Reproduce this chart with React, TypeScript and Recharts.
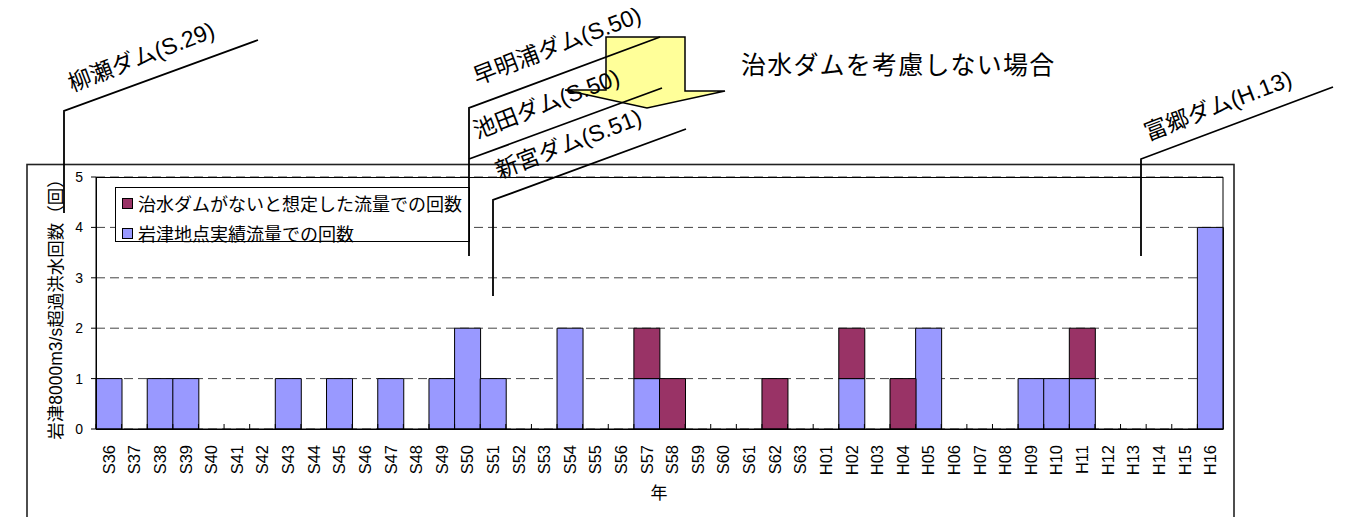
import React from "react";
import { BarChart, Bar, XAxis, YAxis, CartesianGrid, Legend } from "recharts";

// 年 (昭和S36〜平成H16)
const years = [
  "S36", "S37", "S38", "S39", "S40", "S41", "S42", "S43", "S44", "S45",
  "S46", "S47", "S48", "S49", "S50", "S51", "S52", "S53", "S54", "S55",
  "S56", "S57", "S58", "S59", "S60", "S61", "S62", "S63", "H01", "H02",
  "H03", "H04", "H05", "H06", "H07", "H08", "H09", "H10", "H11", "H12",
  "H13", "H14", "H15", "H16",
];

// 岩津地点実績流量での回数
const observed = [
  1, 0, 1, 1, 0, 0, 0, 1, 0, 1,
  0, 1, 0, 1, 2, 1, 0, 0, 2, 0,
  0, 1, 0, 0, 0, 0, 0, 0, 0, 1,
  0, 0, 2, 0, 0, 0, 1, 1, 1, 0,
  0, 0, 0, 4,
];

// 治水ダムがないと想定した流量での回数 (実績への上積み分)
const withoutDams = [
  0, 0, 0, 0, 0, 0, 0, 0, 0, 0,
  0, 0, 0, 0, 0, 0, 0, 0, 0, 0,
  0, 1, 1, 0, 0, 0, 1, 0, 0, 1,
  0, 1, 0, 0, 0, 0, 0, 0, 1, 0,
  0, 0, 0, 0,
];

const countTicks = [0, 1, 2, 3, 4, 5];

const data = years.map((year, i) => ({
  year,
  observed: observed[i],
  withoutDams: withoutDams[i],
}));

const W = 1351;
const H = 517;
const PLOT = { left: 96, right: 1223, top: 177, bottom: 429 };
const BAND = (PLOT.right - PLOT.left) / years.length;

const JP = "'Liberation Sans', 'Noto Sans CJK JP', sans-serif";
const BLUE = "#9999FF";
const PLUM = "#993366";

function YearTick(props: any) {
  const { x, y, payload } = props;
  const left = x - BAND / 2;
  return (
    <g>
      <line x1={left} x2={left} y1={y - 5} y2={y} stroke="#000" strokeWidth={1} />
      <text
        transform={`translate(${x},${y + 16}) rotate(-90)`}
        textAnchor="end"
        dy="0.36em"
        fontFamily={JP}
        fontSize={16.5}
        fill="#000"
      >
        {payload.value}
      </text>
    </g>
  );
}

function LegendBox(props: any) {
  const items = (props.payload || []).slice().reverse();
  return (
    <div
      style={{
        boxSizing: "border-box",
        width: 355,
        height: 55,
        border: "1px solid #000",
        background: "#fff",
        fontFamily: JP,
        fontSize: 18,
        color: "#000",
        position: "relative",
      }}
    >
      {items.map((it: any, i: number) => (
        <div
          key={it.value}
          style={{
            position: "absolute",
            left: 6,
            top: 3 + i * 30,
            height: 24,
            display: "flex",
            alignItems: "center",
            whiteSpace: "nowrap",
          }}
        >
          <span
            style={{
              display: "inline-block",
              boxSizing: "border-box",
              width: 11,
              height: 11,
              background: it.color,
              border: "1px solid #000",
              marginRight: 5,
            }}
          />
          <span>{it.value}</span>
        </div>
      ))}
    </div>
  );
}

// 各ダム完成年の引出し線と注記
const damNotes = [
  { text: "柳瀬ダム(S.29)", path: "M64,213 L64,111 L258,40", tx: 72, ty: 92 },
  { text: "早明浦ダム(S.50)", path: "M469,256 L469,108 L660,37", tx: 477, ty: 85 },
  { text: "池田ダム(S.50)", path: "M469,159 L662,88", tx: 477, ty: 139 },
  { text: "新宮ダム(S.51)", path: "M493,296 L493,200 L686,129", tx: 499, ty: 179 },
  { text: "富郷ダム(H.13)", path: "M1141,256 L1141,159 L1333,87", tx: 1148, ty: 141 },
];

function Annotations() {
  return (
    <svg
      width={W}
      height={H}
      style={{ position: "absolute", left: 0, top: 0, pointerEvents: "none" }}
    >
      {/* chart frame */}
      <rect x={27} y={164.5} width={1207} height={400} fill="none" stroke="#222" strokeWidth={1.6} />
      <rect
        x={PLOT.left + 0.5}
        y={PLOT.top + 0.5}
        width={PLOT.right - PLOT.left - 0.5}
        height={PLOT.bottom - PLOT.top}
        fill="none"
        stroke="#000"
        strokeWidth={1}
      />

      {/* axis titles */}
      <text
        transform="translate(56,305) rotate(-90)"
        textAnchor="middle"
        dominantBaseline="central"
        fontFamily={JP}
        fontSize={17.5}
        fill="#000"
      >
        岩津8000m3/s超過洪水回数（回）
      </text>
      <text x={659} y={499} textAnchor="middle" fontFamily={JP} fontSize={17} fill="#000">
        年
      </text>

      {/* callout arrow */}
      <polygon
        points="606,37 685,37 685,91 725,91 647,108 565,90 606,90"
        fill="#FFFF99"
        stroke="#000"
        strokeWidth={1.5}
        strokeLinejoin="miter"
      />
      <text x={741} y={74} fontFamily={JP} fontSize={25} letterSpacing={1.2} fill="#000">
        治水ダムを考慮しない場合
      </text>

      {damNotes.map((n) => (
        <g key={n.text}>
          <path d={n.path} fill="none" stroke="#000" strokeWidth={1.8} />
          <text
            transform={`translate(${n.tx},${n.ty}) rotate(-21)`}
            fontFamily={JP}
            fontSize={23}
            fill="#000"
          >
            {n.text}
          </text>
        </g>
      ))}
    </svg>
  );
}

export default function App() {
  return (
    <div
      style={{
        position: "absolute",
        left: 0,
        top: 0,
        width: W,
        height: H,
        background: "#fff",
        overflow: "hidden",
      }}
    >
      <BarChart
        width={W}
        height={H}
        data={data}
        barCategoryGap={0}
        margin={{ top: PLOT.top, right: W - PLOT.right, bottom: H - PLOT.bottom - 40, left: PLOT.left - 40 }}
      >
        <CartesianGrid
          vertical={false}
          stroke="#444"
          strokeDasharray="9 5"
          strokeWidth={1}
        />
        <XAxis
          dataKey="year"
          interval={0}
          height={40}
          tickLine={false}
          tickSize={0}
          tickMargin={0}
          axisLine={{ stroke: "#000" }}
          tick={<YearTick />}
        />
        <YAxis
          width={40}
          domain={[0, 5]}
          ticks={countTicks}
          allowDecimals={false}
          tickSize={5}
          tickMargin={8}
          tickLine={{ stroke: "#000" }}
          axisLine={{ stroke: "#000" }}
          tick={{ fill: "#000", fontSize: 14, fontFamily: JP }}
        />
        <Legend
          layout="horizontal"
          verticalAlign="middle"
          align="center"
          content={<LegendBox />}
          wrapperStyle={{ left: 115, top: 187, width: 355, height: 55 }}
        />
        <Bar
          dataKey="observed"
          name="岩津地点実績流量での回数"
          stackId="n"
          fill={BLUE}
          stroke="#000"
          strokeWidth={1}
          isAnimationActive={false}
        />
        <Bar
          dataKey="withoutDams"
          name="治水ダムがないと想定した流量での回数"
          stackId="n"
          fill={PLUM}
          stroke="#000"
          strokeWidth={1}
          isAnimationActive={false}
        />
      </BarChart>
      <Annotations />
    </div>
  );
}
